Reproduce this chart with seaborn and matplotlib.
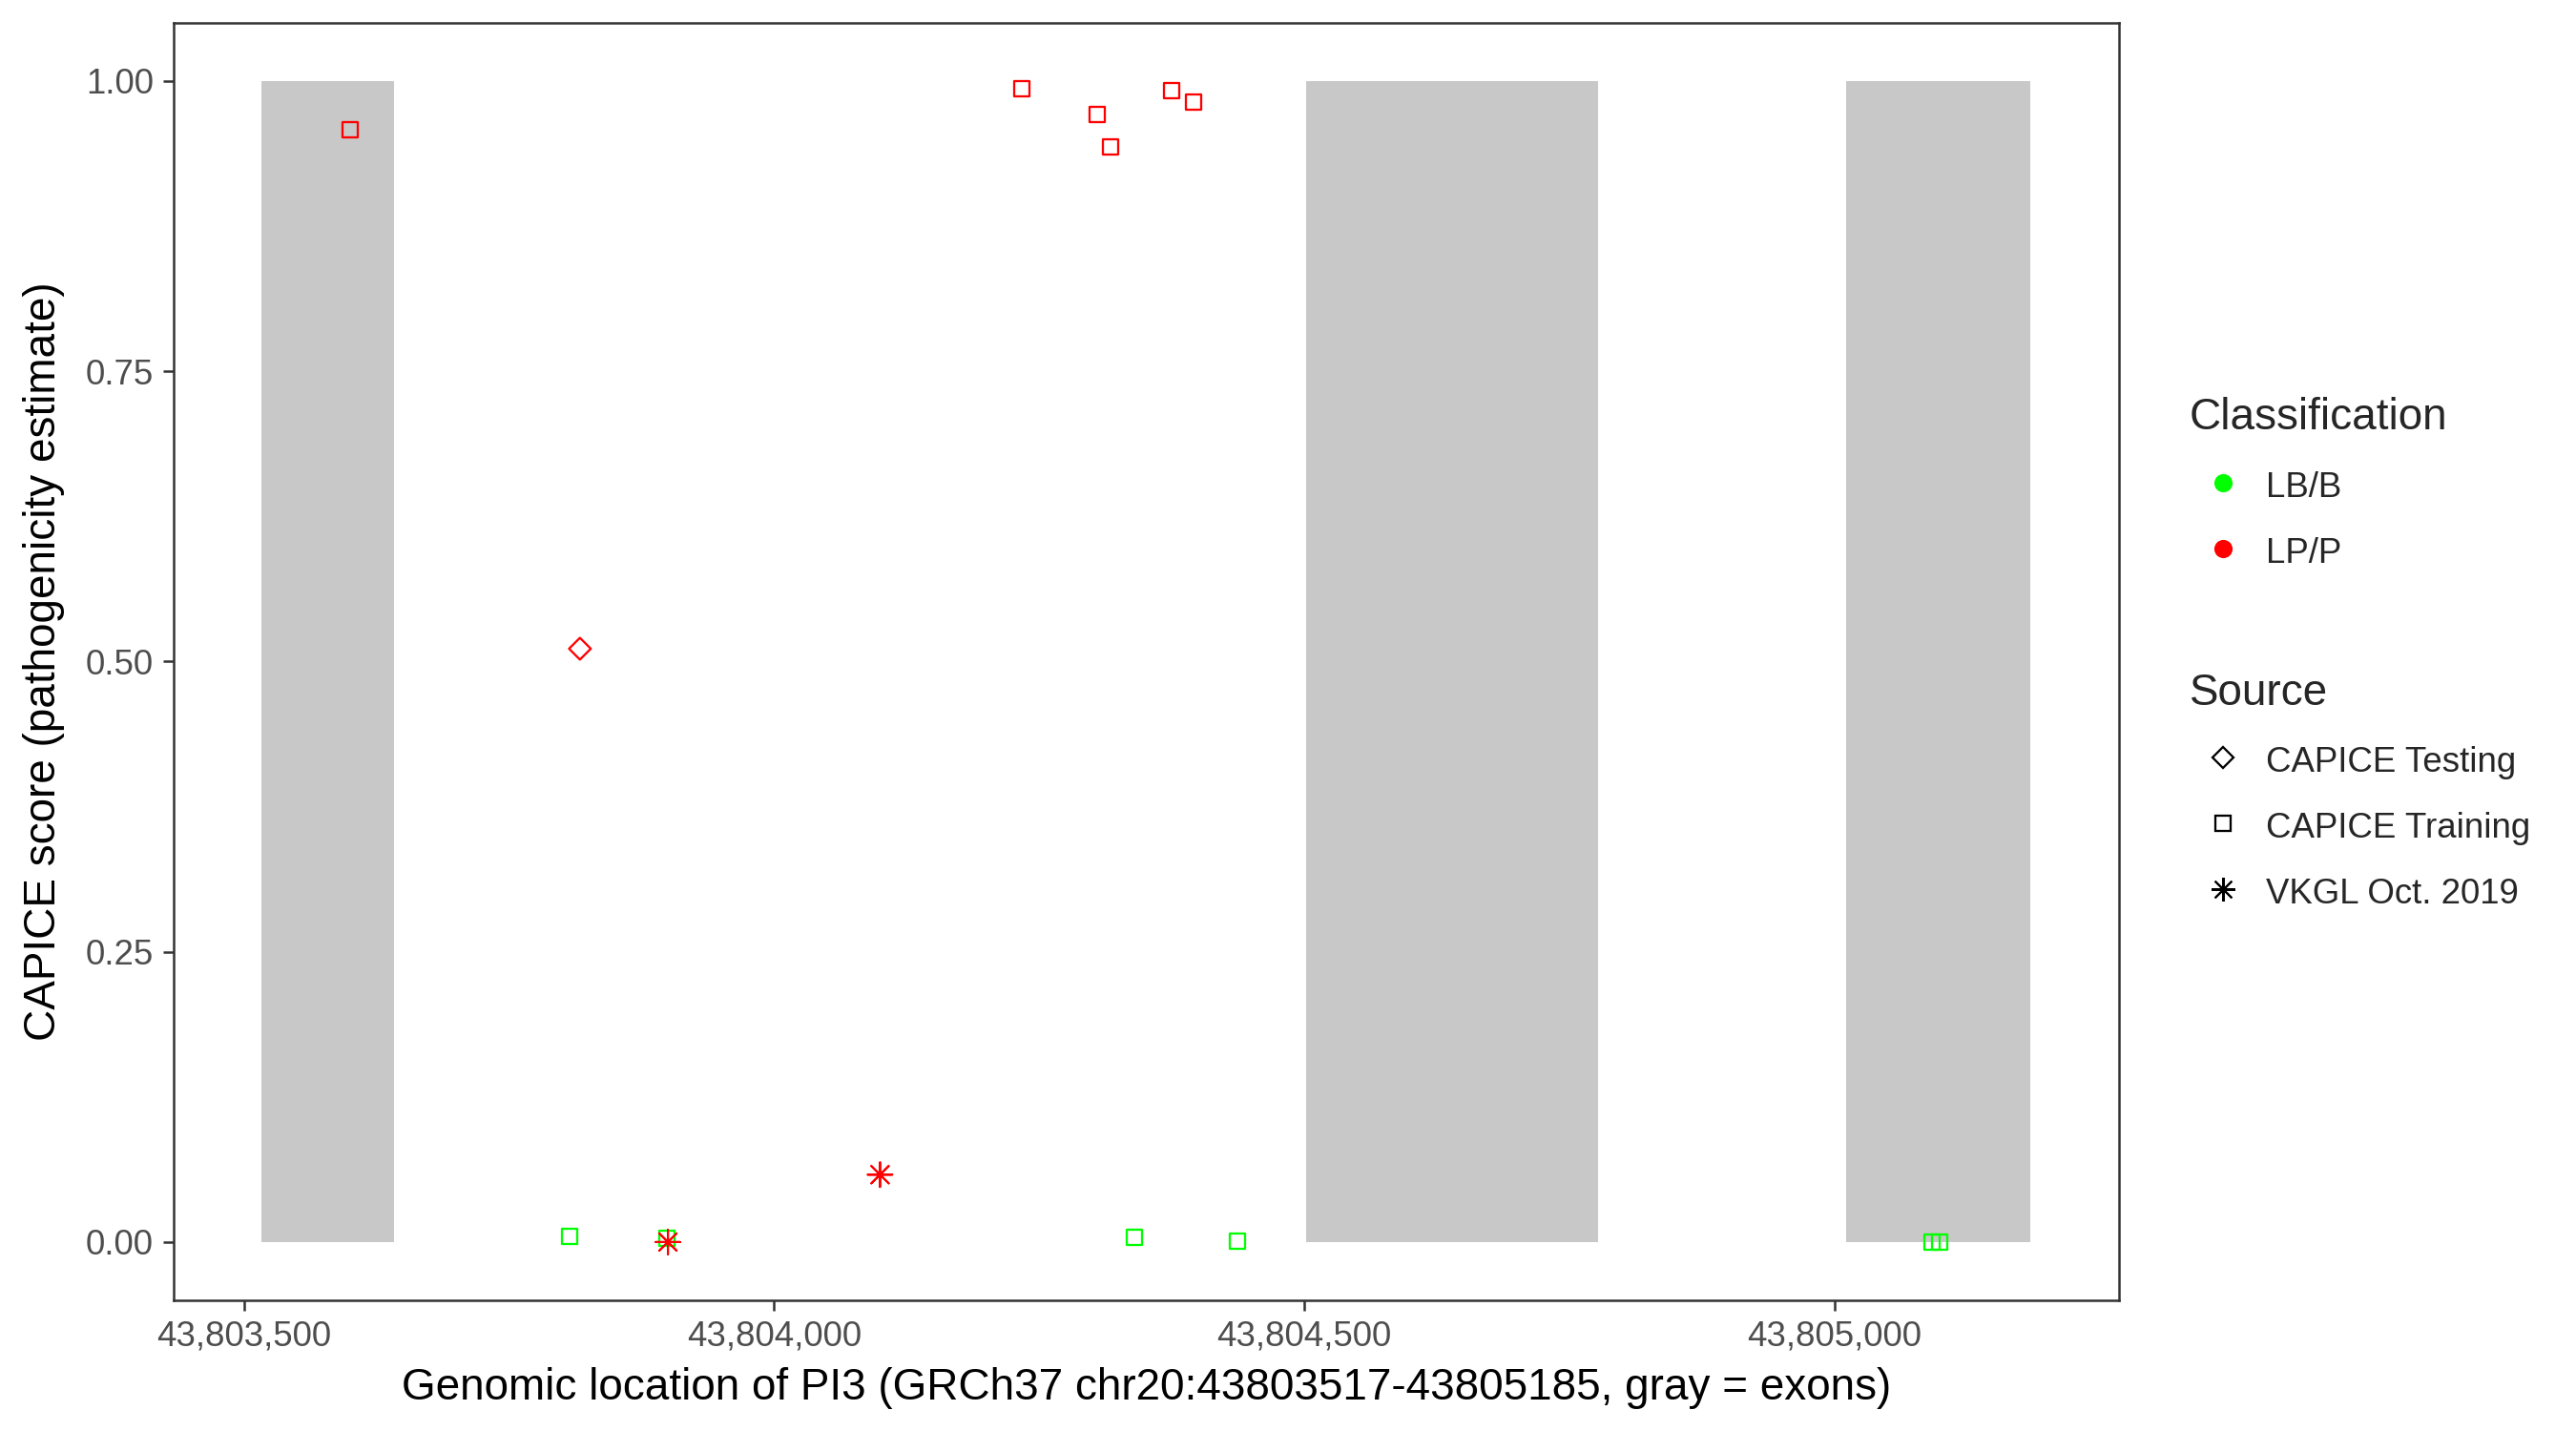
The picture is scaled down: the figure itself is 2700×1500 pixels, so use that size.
import numpy as np
import pandas as pd
import matplotlib
matplotlib.use("Agg")
import matplotlib.pyplot as plt
import seaborn as sns
from matplotlib.lines import Line2D
from matplotlib.ticker import FuncFormatter

# ---------------- data ----------------
positions = [43803600, 43804234, 43804305, 43804317, 43804375, 43804396,
             43803807, 43803899, 43804340, 43804437, 43805092, 43805099,
             43803817,
             43804100, 43803900]
scores = [0.958, 0.993, 0.971, 0.943, 0.992, 0.982,
          0.005, 0.003, 0.004, 0.001, 0.000, 0.000,
          0.511,
          0.058, 0.000]
classification = ["LP/P", "LP/P", "LP/P", "LP/P", "LP/P", "LP/P",
                  "LB/B", "LB/B", "LB/B", "LB/B", "LB/B", "LB/B",
                  "LP/P",
                  "LP/P", "LP/P"]
source = ["CAPICE Training"] * 6 + ["CAPICE Training"] * 6 + \
         ["CAPICE Testing"] + ["VKGL Oct. 2019"] * 2

exon_starts = [43803517, 43804502, 43805011]
exon_ends = [43803642, 43804777, 43805185]

x_ticks = [43803500, 43804000, 43804500, 43805000]
y_ticks = [0.0, 0.25, 0.50, 0.75, 1.00]

class_levels = ["LB/B", "LP/P"]
class_colors = ["#00FF00", "#FF0000"]
source_levels = ["CAPICE Testing", "CAPICE Training", "VKGL Oct. 2019"]

# ---------------- style ----------------
sns.set_theme(style="white")
plt.rcParams['font.family'] = ['Liberation Sans', 'DejaVu Sans']

fig = plt.figure(figsize=(9, 5), dpi=300)
ax = fig.add_axes([0.0673, 0.0915, 0.7553, 0.8925])

# exons (gray rectangles)
exon_df = pd.DataFrame({"start": exon_starts, "end": exon_ends})
ax.bar(exon_df["start"], 1.0, width=exon_df["end"] - exon_df["start"],
       bottom=0.0, align="edge", color="#C8C8C8", linewidth=0, zorder=1)

# points
df = pd.DataFrame({"position": positions, "score": scores,
                   "Classification": classification, "Source": source})
palette = dict(zip(class_levels, class_colors))
marker_spec = {
    "CAPICE Training": ("s", 15, 0.55, True),
    "CAPICE Testing": ("D", 15, 0.55, True),
    "VKGL Oct. 2019": ((8, 2, 0), 38, 0.5, False),
}
for src in ["CAPICE Training", "CAPICE Testing", "VKGL Oct. 2019"]:
    sub = df[df["Source"] == src]
    m, s, lw, hollow = marker_spec[src]
    n_before = len(ax.collections)
    sns.scatterplot(data=sub, x="position", y="score", hue="Classification",
                    palette=palette, hue_order=class_levels, marker=m, s=s,
                    linewidth=lw, legend=False, ax=ax, zorder=3)
    coll = ax.collections[n_before]
    if hollow:
        fc = coll.get_facecolors()
        coll.set_edgecolors(fc)
        coll.set_facecolors("none")
    coll.set_linewidths(lw)

# axes limits (ggplot-like 5% expansion)
lo, hi = min(exon_starts), max(exon_ends)
pad = 0.05 * (hi - lo)
ax.set_xlim(lo - pad, hi + pad)
ax.set_ylim(-0.05, 1.05)

ax.set_xticks(x_ticks)
ax.xaxis.set_major_formatter(FuncFormatter(lambda v, p: f"{int(round(v)):,}"))
ax.set_yticks(y_ticks)
ax.yaxis.set_major_formatter(FuncFormatter(lambda v, p: f"{v:.2f}"))
ax.tick_params(axis="both", which="major", length=2.75, width=0.6,
               color="#333333", labelcolor="#4D4D4D", labelsize=8.8, pad=2.2,
               bottom=True, left=True)
for sp in ax.spines.values():
    sp.set_visible(True)
    sp.set_color("#333333")
    sp.set_linewidth(0.6)
ax.grid(False)

ax.set_xlabel("Genomic location of PI3 (GRCh37 chr20:43803517-43805185, gray = exons)",
              fontsize=11, color="black", labelpad=3.5)
ax.set_ylabel("CAPICE score (pathogenicity estimate)",
              fontsize=11, color="black", labelpad=5.2)

# legends
cls_handles = [Line2D([], [], linestyle="none", marker="o", markersize=4.6,
                      markerfacecolor=c, markeredgecolor=c, markeredgewidth=0)
               for c in class_colors]
src_markers = {"CAPICE Testing": ("D", 3.9, 0.55),
               "CAPICE Training": ("s", 3.8, 0.55),
               "VKGL Oct. 2019": ((8, 2, 0), 6.0, 0.5)}
src_handles = [Line2D([], [], linestyle="none", marker=src_markers[k][0],
                      markersize=src_markers[k][1], markerfacecolor="none",
                      markeredgecolor="black", markeredgewidth=src_markers[k][2])
               for k in source_levels]

leg_kw = dict(loc="upper left", frameon=False, fontsize=8.8, title_fontsize=11,
              alignment="left", handlelength=1.9, handletextpad=0.27,
              handleheight=1.2, labelspacing=0.81, borderpad=0, borderaxespad=0)
leg1 = fig.legend(cls_handles, class_levels, title="Classification",
                  bbox_to_anchor=(0.85, 0.7224), **leg_kw)
leg2 = fig.legend(src_handles, source_levels, title="Source",
                  bbox_to_anchor=(0.85, 0.5303), **leg_kw)

fig.savefig("out.png", dpi=300)
